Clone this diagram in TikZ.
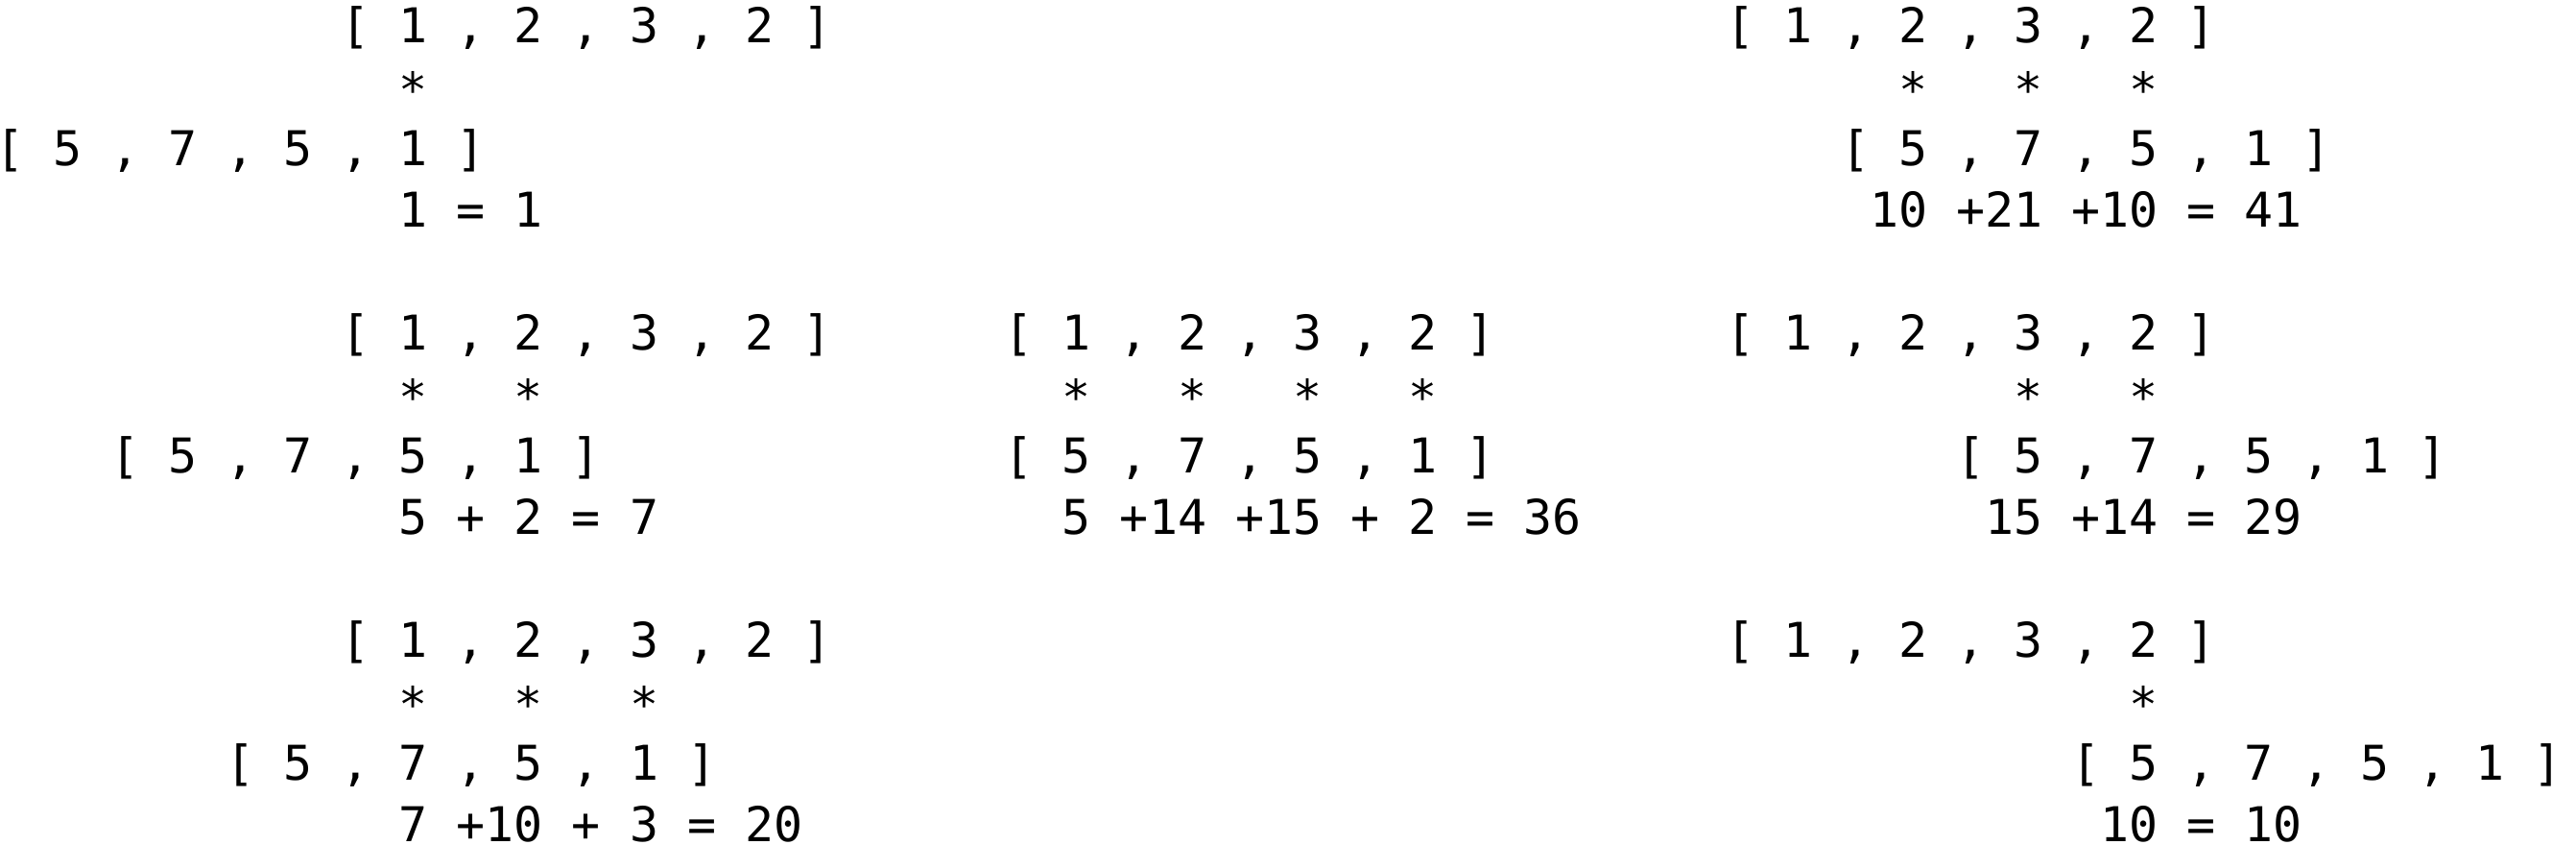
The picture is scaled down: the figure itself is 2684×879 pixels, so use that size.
\documentclass[tikz,border=0pt]{standalone}
\usepackage{fontspec}
\newfontfamily\monofont{DejaVu Sans Mono}
\newcommand{\cellw}{30.05}
\tikzset{
  mono/.style={anchor=base west, inner sep=0pt, outer sep=0pt,
    font=\monofont\fontsize{49.91pt}{64pt}\selectfont, text=black},
  star/.style={mono, yshift=-3pt}
}
% name, cell, line, text
\newcommand{\txtat}[4]{\node[mono] (#1) at ({\cellw*#2-5},{-(44+64*#3)}) {#4};}
\newcommand{\starat}[3]{\node[star] (#1) at ({\cellw*#2-5},{-(44+64*#3)}) {*};}
\begin{document}
\begin{tikzpicture}[x=1pt,y=1pt]
\useasboundingbox (0,0) rectangle (2684,-879);
% left block 1
\txtat{la1}{12}{0}{[ 1 , 2 , 3 , 2 ]}
\starat{ls1a}{14}{1}
\txtat{lb1}{0}{2}{[ 5 , 7 , 5 , 1 ]}
\txtat{lr1}{14}{3}{1 = 1}
% left block 2
\txtat{la2}{12}{5}{[ 1 , 2 , 3 , 2 ]}
\starat{ls2a}{14}{6}
\starat{ls2b}{18}{6}
\txtat{lb2}{4}{7}{[ 5 , 7 , 5 , 1 ]}
\txtat{lr2}{14}{8}{5 + 2 = 7}
% left block 3
\txtat{la3}{12}{10}{[ 1 , 2 , 3 , 2 ]}
\starat{ls3a}{14}{11}
\starat{ls3b}{18}{11}
\starat{ls3c}{22}{11}
\txtat{lb3}{8}{12}{[ 5 , 7 , 5 , 1 ]}
\txtat{lr3}{14}{13}{7 +10 + 3 = 20}
% middle block
\txtat{ma}{35}{5}{[ 1 , 2 , 3 , 2 ]}
\starat{msa}{37}{6}
\starat{msb}{41}{6}
\starat{msc}{45}{6}
\starat{msd}{49}{6}
\txtat{mb}{35}{7}{[ 5 , 7 , 5 , 1 ]}
\txtat{mr}{37}{8}{5 +14 +15 + 2 = 36}
% right block 1
\txtat{ra1}{60}{0}{[ 1 , 2 , 3 , 2 ]}
\starat{rs1a}{66}{1}
\starat{rs1b}{70}{1}
\starat{rs1c}{74}{1}
\txtat{rb1}{64}{2}{[ 5 , 7 , 5 , 1 ]}
\txtat{rr1}{65}{3}{10 +21 +10 = 41}
% right block 2
\txtat{ra2}{60}{5}{[ 1 , 2 , 3 , 2 ]}
\starat{rs2a}{70}{6}
\starat{rs2b}{74}{6}
\txtat{rb2}{68}{7}{[ 5 , 7 , 5 , 1 ]}
\txtat{rr2}{69}{8}{15 +14 = 29}
% right block 3
\txtat{ra3}{60}{10}{[ 1 , 2 , 3 , 2 ]}
\starat{rs3a}{74}{11}
\txtat{rb3}{72}{12}{[ 5 , 7 , 5 , 1 ]}
\txtat{rr3}{73}{13}{10 = 10}
\end{tikzpicture}
\end{document}
